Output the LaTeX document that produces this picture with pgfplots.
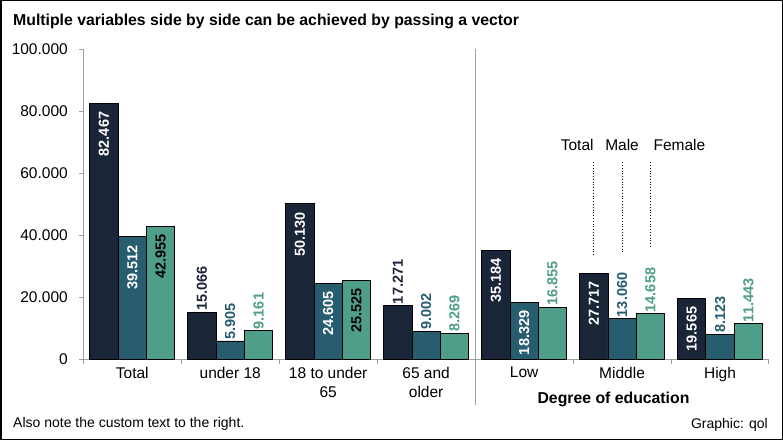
\documentclass[border=0pt]{standalone}
\usepackage{fontspec}
\setmainfont{Liberation Sans}
\usepackage{pgfplots}
\pgfplotsset{compat=1.18}
\definecolor{cdark}{HTML}{1B2538}
\definecolor{cteal}{HTML}{275D6E}
\definecolor{cgreen}{HTML}{4E9E8A}
\definecolor{axgray}{HTML}{A0A0A0}
\newcommand{\tickfont}{\fontsize{15.5bp}{19bp}\selectfont}
\newcommand{\labfont}{\bfseries\fontsize{14.5bp}{14.5bp}\selectfont}
\pgfplotsset{
  barsty/.style={ybar, bar width=0.289, bar shift=0pt, draw=black, line width=0.8bp, fill=#1},
  inlab/.style={draw=none, mark=none,
    nodes near coords={\pgfmathprintnumber[fixed,fixed zerofill,precision=3]{\pgfplotspointmeta}},
    every node near coord/.style={rotate=90, anchor=east, font=\labfont, inner xsep=8bp, inner ysep=0pt, text=#1}},
  outlab/.style={draw=none, mark=none,
    nodes near coords={\pgfmathprintnumber[fixed,fixed zerofill,precision=3]{\pgfplotspointmeta}},
    every node near coord/.style={rotate=90, anchor=west, font=\labfont, inner xsep=1.5bp, inner ysep=0pt, text=#1}},
}
\begin{document}
\begin{tikzpicture}
\useasboundingbox (0,0) rectangle (783bp,440bp);
\begin{axis}[
  at={(83.3bp,80.7bp)}, anchor=south west,
  scale only axis, width=685.7bp, height=310bp,
  xmin=0, xmax=7, ymin=0, ymax=100,
  axis lines*=left,
  axis line style={axgray, line width=1bp},
  tick style={axgray, line width=1bp},
  tick align=outside,
  xtick={0.5,1.5,2.5,3.5,4.5,5.5,6.5},
  xticklabels={Total, under 18, {18 to under\\65}, {65 and\\older}, Low, Middle, High},
  major x tick style={draw=none},
  minor xtick={0,1,2,3,4,5,6,7},
  minor tick length=5bp,
  major tick length=4bp,
  ytick={0,20,40,60,80,100},
  yticklabels={0,20.000,40.000,60.000,80.000,100.000},
  ticklabel style={font=\tickfont},
  xticklabel style={align=center},
  yticklabel style={xshift=-8bp},
  clip=false,
  /pgf/number format/assume math mode=true,
]
% bars
\addplot[barsty=cdark] coordinates {(0.211,82.467) (1.211,15.066) (2.211,50.130) (3.211,17.271) (4.211,35.184) (5.211,27.717) (6.211,19.565)};
\addplot[barsty=cteal] coordinates {(0.5,39.512) (1.5,5.905) (2.5,24.605) (3.5,9.002) (4.5,18.329) (5.5,13.060) (6.5,8.123)};
\addplot[barsty=cgreen] coordinates {(0.789,42.955) (1.789,9.161) (2.789,25.525) (3.789,8.269) (4.789,16.855) (5.789,14.658) (6.789,11.443)};
% labels inside
\addplot[inlab=white] coordinates {(0.211,82.467) (2.211,50.130) (4.211,35.184) (5.211,27.717) (6.211,19.565)};
\addplot[inlab=white] coordinates {(0.5,39.512) (2.5,24.605) (4.5,18.329)};
\addplot[inlab=black] coordinates {(0.789,42.955) (2.789,25.525)};
% labels outside
\addplot[outlab=cdark] coordinates {(1.211,15.066) (3.211,17.271)};
\addplot[outlab=cteal] coordinates {(1.5,5.905) (3.5,9.002) (5.5,13.060) (6.5,8.123)};
\addplot[outlab=cgreen] coordinates {(1.789,9.161) (3.789,8.269) (4.789,16.855) (5.789,14.658) (6.789,11.443)};
% separator
\draw[axgray, line width=1bp] (axis cs:4,-14.7) -- (axis cs:4,100);
% annotation
\draw[black, dotted, line width=0.8bp] (axis cs:5.211,63.6) -- (axis cs:5.211,33.3);
\draw[black, dotted, line width=0.8bp] (axis cs:5.5,63.6) -- (axis cs:5.5,34.3);
\draw[black, dotted, line width=0.8bp] (axis cs:5.789,63.6) -- (axis cs:5.789,35.9);
\node[anchor=base east, inner sep=0pt, font=\tickfont] at (axis cs:5.211,67.5) {Total};
\node[anchor=base, inner sep=0pt, font=\tickfont] at (axis cs:5.5,67.5) {Male};
\node[anchor=base west, inner sep=0pt, font=\tickfont, xshift=3bp] at (axis cs:5.789,67.5) {Female};
\end{axis}
\node[anchor=base west, inner sep=0pt, font=\bfseries\fontsize{15.8bp}{18bp}\selectfont] at (13bp,414bp) {Multiple variables side by side can be achieved by passing a vector};
\node[anchor=base, inner sep=0pt, font=\bfseries\fontsize{15.8bp}{18bp}\selectfont] at (613.5bp,37bp) {Degree of education};
\node[anchor=base west, inner sep=0pt, font=\fontsize{14bp}{16bp}\selectfont] at (13bp,13bp) {Also note the custom text to the right.};
\node[anchor=base east, inner sep=0pt, font=\fontsize{14bp}{16bp}\selectfont] at (768bp,12bp) {Graphic: qol};
\draw[black, line width=1.5bp] (0.75bp,0.75bp) rectangle (782.25bp,439.25bp);
\end{tikzpicture}
\end{document}
